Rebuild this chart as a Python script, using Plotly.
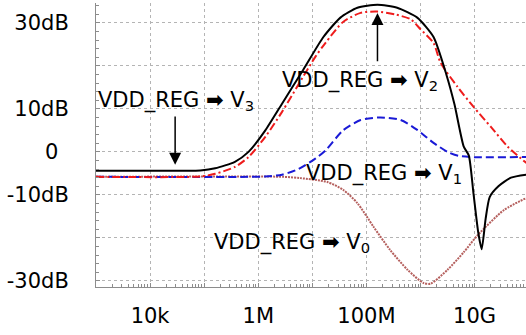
import plotly.graph_objects as go

# ---- data (frequency in Hz, magnitude in dB) ----
f_v3 = [1e3, 1e4, 8.5e4, 1.6e5, 3.7e5, 6.6e5, 1.35e6, 2.75e6, 6.8e6, 1.6e7, 3.3e7,
        6.8e7, 1.6e8, 3.7e8, 8.7e8, 1.74e9, 3.0e9, 4.25e9, 6.3e9, 7.8e9,
        9.5e9, 1.17e10, 1.35e10, 1.6e10, 1.9e10, 2.75e10, 4.7e10, 9.1e10]
db_v3 = [-4.4, -4.4, -4.3, -3.8, -2.3, 0.0, 5.0, 11.2, 19.1, 26.7, 31.2,
         33.5, 34.2, 33.5, 31.2, 26.7, 18.0, 11.0, 1.2, -0.8,
         -9.5, -18.8, -22.6, -15.5, -10.5, -8.0, -6.0, -5.3]

f_v2 = [1e3, 8.5e4, 1.6e5, 3.7e5, 6.6e5, 1.35e6, 2.75e6, 5.5e6, 1.15e7, 1.74e7, 3.7e7,
        7.8e7, 1.6e8, 3.5e8, 6.6e8, 1e9, 1.74e9, 2.35e9, 4.85e9, 9.5e9, 2.0e10, 4.1e10, 9.1e10]
db_v2 = [-5.8, -5.7, -5.1, -3.5, -1.2, 3.5, 9.3, 15.6, 22.2, 25.3, 30.2,
         32.3, 32.6, 31.9, 30.8, 28.5, 25.3, 20.7, 15.1, 10.5, 5.8, 1.2, -2.6]

f_v1 = [1e3, 6.6e5, 1.35e6, 2.75e6, 5.5e6, 1.15e7, 1.74e7, 3.7e7, 7.8e7, 1.8e8, 4.3e8,
        8.7e8, 1.74e9, 3.16e9, 5e9, 8.7e9, 9.1e10]
db_v1 = [-5.8, -5.8, -5.7, -5.3, -4.0, -1.5, 0.3, 5.0, 7.4, 8.0, 7.4,
         5.1, 2.1, 0.0, -0.9, -1.2, -1.2]

f_v0 = [1e3, 3.0e6, 6.0e6, 1.9e7, 3.7e7, 6.8e7, 1.35e8, 2.75e8, 5.75e8, 1.15e9, 1.55e9,
        3.16e9, 6.3e9, 1.15e10, 3.5e10, 9.1e10]
db_v0 = [-5.8, -5.8, -6.1, -7.0, -8.8, -11.9, -17.4, -22.8, -27.4, -30.5, -30.6,
         -27.4, -23.3, -19.3, -13.5, -10.7]

x_tickvals = [1e3, 1e4, 1e5, 1e6, 1e7, 1e8, 1e9, 1e10]
x_ticktext = ["", "10k", "", "1M", "", "100M", "", "10G"]
y_tickvals = [30, 20, 10, 0, -10, -20, -30]
y_ticktext = ["30dB", "", "10dB", "0\u2002", "-10dB", "", "-30dB"]

FONT = "DejaVu Sans"

fig = go.Figure()
fig.add_trace(go.Scatter(x=f_v0, y=db_v0, mode="lines",
                         line=dict(color="#b5605e", width=2, dash="2px,1px", shape="spline", smoothing=0.7)))
fig.add_trace(go.Scatter(x=f_v1, y=db_v1, mode="lines",
                         line=dict(color="#1a1ad6", width=2, dash="8px,4px", shape="spline", smoothing=0.7)))
fig.add_trace(go.Scatter(x=f_v2, y=db_v2, mode="lines",
                         line=dict(color="#ee1c1c", width=2, dash="8px,3px,2px,3px", shape="spline", smoothing=0.7)))
fig.add_trace(go.Scatter(x=f_v3, y=db_v3, mode="lines",
                         line=dict(color="black", width=2, shape="spline", smoothing=0.6)))

label_font = dict(family=FONT, size=21, color="black")
arrow = "<b>\u27A1</b>"
labels = [
    (3.00, 11.9, "VDD_REG " + arrow + " V<sub>3</sub>"),
    (6.41, 16.5, "VDD_REG " + arrow + " V<sub>2</sub>"),
    (6.85, -5.1, "VDD_REG " + arrow + " V<sub>1</sub>"),
    (5.15, -21.2, "VDD_REG " + arrow + " V<sub>0</sub>"),
]
for lx, ly, txt in labels:
    fig.add_annotation(x=lx, y=ly, text=txt, showarrow=False, xanchor="left", yanchor="middle",
                       font=label_font, xref="x", yref="y")

# pointer arrows
fig.add_annotation(x=4.463, y=-3.0, ax=4.463, ay=8.6, axref="x", ayref="y", xref="x", yref="y",
                   text="", showarrow=True, arrowhead=2, arrowsize=1.6, arrowwidth=1.5, arrowcolor="black")
fig.add_annotation(x=8.204, y=32.3, ax=8.204, ay=20.7, axref="x", ayref="y", xref="x", yref="y",
                   text="", showarrow=True, arrowhead=2, arrowsize=1.6, arrowwidth=1.5, arrowcolor="black")

fig.update_layout(
    width=526, height=335,
    margin=dict(l=96, r=0, t=3, b=48, autoexpand=False),
    paper_bgcolor="white", plot_bgcolor="white",
    showlegend=False,
    font=dict(family=FONT, size=21, color="black"),
)
fig.update_xaxes(
    type="log", range=[3.0, 10.95], automargin=False,
    tickvals=x_tickvals, ticktext=x_ticktext,
    showgrid=True, gridcolor="#b4b4b4", griddash="dot", gridwidth=1,
    showline=True, linecolor="#8c8c8c", linewidth=1,
    ticks="inside", ticklen=4, tickcolor="#8c8c8c",
    minor=dict(ticks="inside", ticklen=3, tickcolor="#8c8c8c", dtick="D1", showgrid=False),
    ticklabelstandoff=10,
    tickfont=dict(family=FONT, size=21),
    zeroline=False,
)
fig.update_yaxes(
    range=[-31.4, 34.6], automargin=False,
    tickvals=y_tickvals, ticktext=y_ticktext,
    showgrid=True, gridcolor="#b4b4b4", griddash="dot", gridwidth=1,
    showline=True, linecolor="#8c8c8c", linewidth=1,
    ticks="inside", ticklen=4, tickcolor="#8c8c8c",
    minor=dict(ticks="inside", ticklen=3, tickcolor="#8c8c8c", dtick=2, showgrid=False),
    ticklabelstandoff=22,
    tickfont=dict(family=FONT, size=21),
    zeroline=False,
)

fig.write_html("out.html", config={"displayModeBar": False},
               post_script="document.body.style.margin='0';")
